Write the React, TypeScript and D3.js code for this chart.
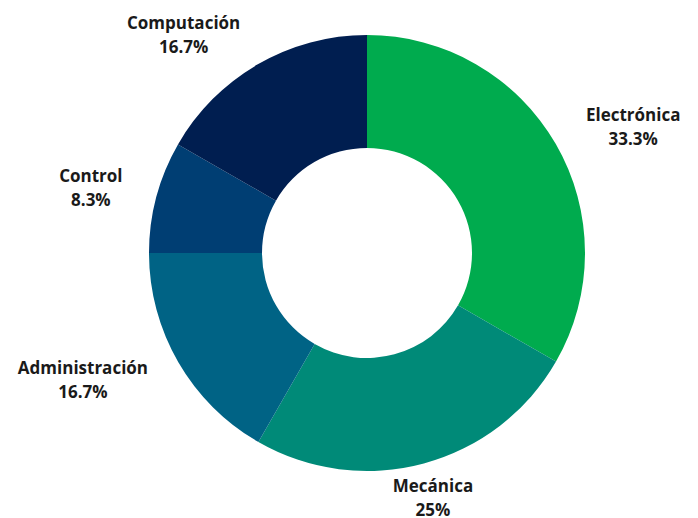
import React, { useEffect, useRef } from "react";
import { arc, pie, select, PieArcDatum } from "d3";

const categories = ["Electrónica", "Mecánica", "Administración", "Control", "Computación"];
const values = [33.3, 25, 16.7, 8.3, 16.7];
const labels = ["33.3%", "25%", "16.7%", "8.3%", "16.7%"];
const colors = ["#00AB4E", "#008A78", "#006385", "#003E73", "#001E50"];

const width = 698;
const height = 518;
const cx = 367;
const cy = 253;
const outer = 218;
const inner = 105;
const labelR = 253;

type Slice = { name: string; value: number; label: string; color: string };

export default function App() {
  const svgRef = useRef<SVGSVGElement | null>(null);

  useEffect(() => {
    const svg = select(svgRef.current);
    svg.selectAll("*").remove();

    const data: Slice[] = categories.map((name, i) => ({
      name,
      value: values[i],
      label: labels[i],
      color: colors[i],
    }));

    const pieGen = pie<Slice>().value((d) => d.value).sort(null);
    const arcs = pieGen(data);
    const arcGen = arc<PieArcDatum<Slice>>().innerRadius(inner).outerRadius(outer);

    const g = svg.append("g").attr("transform", `translate(${cx},${cy})`);

    g.selectAll("path")
      .data(arcs)
      .join("path")
      .attr("d", arcGen)
      .attr("fill", (d) => d.data.color);

    const lab = g
      .selectAll("text.lab")
      .data(arcs)
      .join("text")
      .attr("class", "lab")
      .attr("text-anchor", "middle")
      .attr("font-family", "'Open Sans', sans-serif")
      .attr("font-weight", 700)
      .attr("font-size", 17)
      .attr("fill", "#1a1a1a");

    lab.each(function (d) {
      const t = select(this);
      t.append("tspan").attr("x", 0).attr("dy", 0).text(d.data.name);
      t.append("tspan").attr("x", 0).attr("dy", 24).text(d.data.label);
      const bb = (this as SVGTextElement).getBBox();
      const a = (d.startAngle + d.endAngle) / 2;
      const s = Math.sin(a);
      let x = labelR * s;
      if (Math.abs(s) > 0.4) x += Math.sign(s) * (bb.width / 2);
      const y = -labelR * Math.cos(a) - (bb.y + bb.height / 2);
      t.attr("transform", `translate(${x},${y})`);
    });
  }, []);

  return (
    <svg
      ref={svgRef}
      width={width}
      height={height}
      style={{ position: "absolute", left: 0, top: 0, background: "#fff" }}
    />
  );
}
